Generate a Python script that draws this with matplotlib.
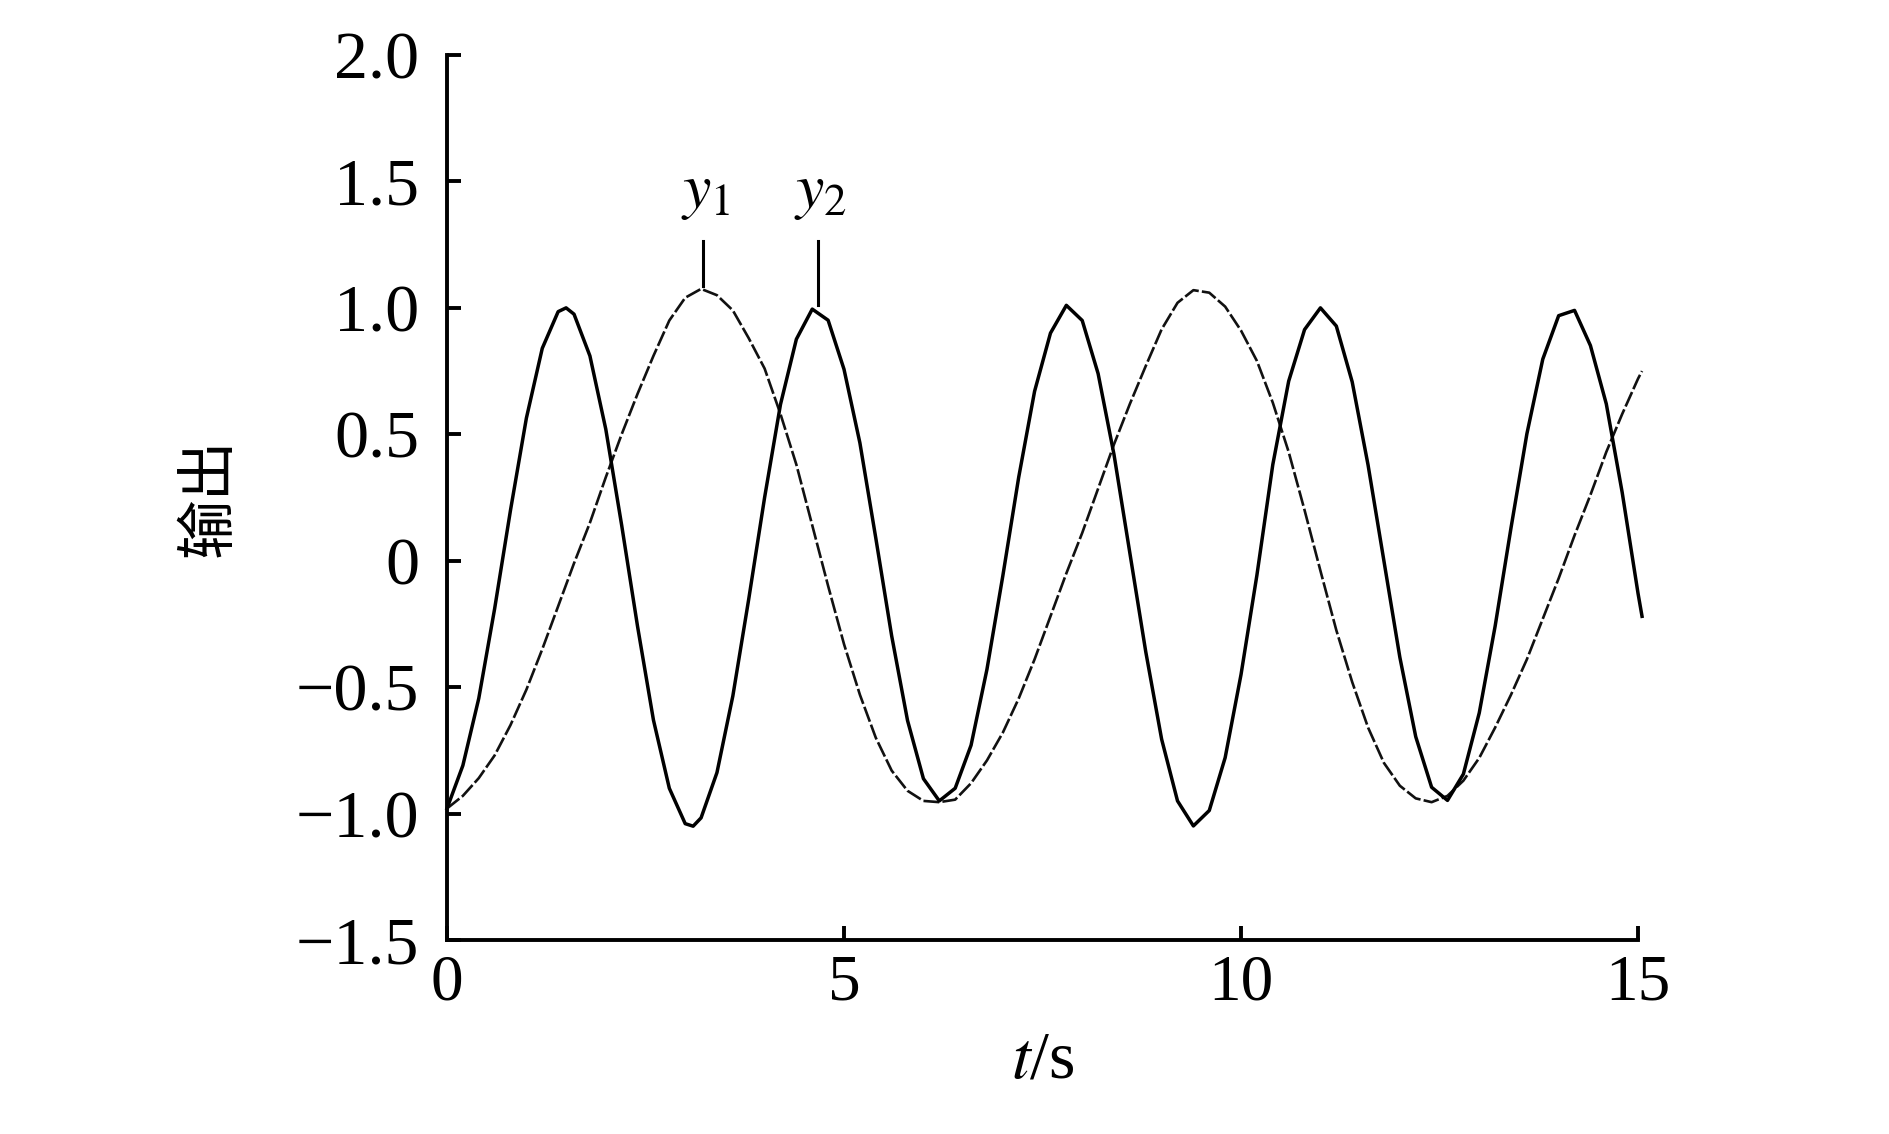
#!/usr/bin/env python3

import matplotlib
matplotlib.use('Agg')
import matplotlib.pyplot as plt

# time samples (s) for the slow output
t = [0.0, 0.2, 0.4, 0.6, 0.8, 1.0, 1.2, 1.4, 1.6, 1.8,
     2.0, 2.2, 2.4, 2.6, 2.8, 3.0, 3.2, 3.4, 3.6, 3.8,
     4.0, 4.2, 4.4, 4.6, 4.8, 5.0, 5.2, 5.4, 5.6, 5.8,
     6.0, 6.2, 6.4, 6.6, 6.8, 7.0, 7.2, 7.4, 7.6, 7.8,
     8.0, 8.2, 8.4, 8.6, 8.8, 9.0, 9.2, 9.4, 9.6, 9.8,
     10.0, 10.2, 10.4, 10.6, 10.8, 11.0, 11.2, 11.4, 11.6, 11.8,
     12.0, 12.2, 12.4, 12.6, 12.8, 13.0, 13.2, 13.4, 13.6, 13.8,
     14.0, 14.2, 14.4, 14.6, 14.8, 15.0, 15.05]

# slow output y1
y1 = [-0.98, -0.93, -0.86, -0.77, -0.65, -0.51, -0.35, -0.18, -0.01, 0.15,
      0.33, 0.50, 0.66, 0.81, 0.95, 1.04, 1.075, 1.05, 0.99, 0.88,
      0.76, 0.58, 0.38, 0.14, -0.10, -0.33, -0.53, -0.70, -0.83, -0.91,
      -0.95, -0.955, -0.945, -0.88, -0.79, -0.68, -0.545, -0.39, -0.22, -0.05,
      0.11, 0.285, 0.46, 0.62, 0.77, 0.915, 1.02, 1.07, 1.06, 1.005,
      0.91, 0.79, 0.625, 0.43, 0.20, -0.04, -0.275, -0.48, -0.66, -0.80,
      -0.89, -0.94, -0.955, -0.93, -0.87, -0.78, -0.66, -0.53, -0.39, -0.23,
      -0.07, 0.10, 0.26, 0.43, 0.58, 0.72, 0.75]

# time samples (s) for the fast output, extra points at the first extremes
t2 = [0.0, 0.2, 0.4, 0.6, 0.8, 1.0, 1.2, 1.4, 1.5, 1.6, 1.8,
      2.0, 2.2, 2.4, 2.6, 2.8, 3.0, 3.1, 3.2, 3.4, 3.6, 3.8,
      4.0, 4.2, 4.4, 4.6, 4.8, 5.0, 5.2, 5.4, 5.6, 5.8,
      6.0, 6.2, 6.4, 6.6, 6.8, 7.0, 7.2, 7.4, 7.6, 7.8,
      8.0, 8.2, 8.4, 8.6, 8.8, 9.0, 9.2, 9.4, 9.6, 9.8,
      10.0, 10.2, 10.4, 10.6, 10.8, 11.0, 11.2, 11.4, 11.6, 11.8,
      12.0, 12.2, 12.4, 12.6, 12.8, 13.0, 13.2, 13.4, 13.6, 13.8,
      14.0, 14.2, 14.4, 14.6, 14.8, 15.0, 15.05]

# fast output y2
y2 = [-0.98, -0.81, -0.545, -0.19, 0.20, 0.564, 0.84, 0.985, 1.0, 0.975, 0.81,
      0.52, 0.14, -0.26, -0.63, -0.90, -1.04, -1.05, -1.017, -0.838, -0.535, -0.152,
      0.25, 0.618, 0.876, 0.995, 0.951, 0.757, 0.466, 0.09, -0.297, -0.632,
      -0.862, -0.95, -0.90, -0.73, -0.43, -0.06, 0.33, 0.67, 0.90, 1.01,
      0.95, 0.74, 0.42, 0.03, -0.36, -0.706, -0.95, -1.049, -0.988, -0.779,
      -0.45, -0.057, 0.38, 0.71, 0.914, 1.0, 0.928, 0.707, 0.378, -0.002,
      -0.382, -0.696, -0.896, -0.948, -0.844, -0.602, -0.259, 0.13, 0.502, 0.797,
      0.969, 0.99, 0.851, 0.62, 0.27, -0.13, -0.22]

# curve labels
label_names = ['$y_1$', '$y_2$']
label_t = [3.23, 4.67]
label_bottom = [1.085, 1.01]
label_top = 1.265

xticks = [0, 5, 10, 15]
yticks = [-1.5, -1.0, -0.5, 0, 0.5, 1.0, 1.5, 2.0]
ytick_labels = ['\u22121.5', '\u22121.0', '\u22120.5', '0', '0.5', '1.0', '1.5', '2.0']


def plot_outputs(output_filename='out.png'):
    plt.rcParams['font.family'] = ['Liberation Serif', 'Noto Sans CJK SC']
    plt.rcParams['mathtext.fontset'] = 'stix'

    fig = plt.figure(figsize=(18.9, 11.34), dpi=100)
    ax = fig.add_axes([0.2365, 0.1711, 0.6302, 0.7804])

    ax.plot(t2, y2, color='black', linewidth=2.5, clip_on=False, zorder=3,
            solid_joinstyle='round')
    ax.plot(t, y1, color='#111111', linewidth=1.9, linestyle=(0, (6, 1.2)),
            clip_on=False, zorder=2)

    # leader lines + labels
    for name, lt, lb in zip(label_names, label_t, label_bottom):
        ax.plot([lt, lt], [lb, label_top], color='black', linewidth=2.2)
        ax.text(lt + 0.03, 1.40, name, fontsize=46, ha='center', va='baseline')

    ax.set_xlim(0, 15)
    ax.set_ylim(-1.5, 2.0)
    ax.set_xticks(xticks)
    ax.set_xticklabels([str(x) for x in xticks])
    ax.set_yticks(yticks)
    ax.set_yticklabels(ytick_labels)

    for side in ['top', 'right']:
        ax.spines[side].set_visible(False)
    for side in ['left', 'bottom']:
        ax.spines[side].set_linewidth(2.8)

    ax.tick_params(axis='both', direction='in', length=10, width=2.8,
                   labelsize=49)
    ax.tick_params(axis='x', labelsize=47, pad=10)
    ax.tick_params(axis='y', pad=20)

    ax.set_xlabel('$t$/s', fontsize=49, labelpad=12)
    ax.set_ylabel('输出', fontsize=43, family=['Noto Sans CJK SC'], labelpad=40)

    fig.savefig(output_filename, dpi=100)
    plt.close(fig)


if __name__ == "__main__":
    plot_outputs()
